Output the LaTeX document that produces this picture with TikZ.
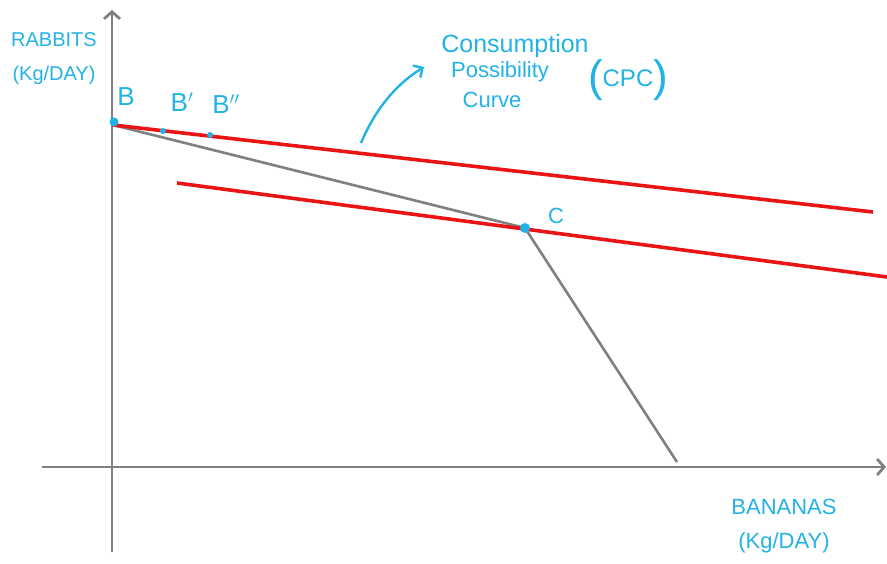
\documentclass[tikz,border=0pt]{standalone}
\usepackage{fontspec}
\setmainfont{Liberation Sans}
\usetikzlibrary{arrows.meta}
\definecolor{hand}{RGB}{35,178,230}
\definecolor{axisgray}{RGB}{128,128,128}
\definecolor{cpcred}{RGB}{235,20,20}
\tikzset{
  axisline/.style={draw=axisgray, line width=2.8pt},
  ppfline/.style={draw=axisgray, line width=2.6pt},
  cpcline/.style={draw=cpcred, line width=3.6pt},
  hlabel/.style={text=hand, font=\fontsize{22}{24}\selectfont, inner sep=0pt, align=center},
  dotpt/.style={circle, fill=hand, inner sep=0pt, minimum size=6pt},
}
\begin{document}
\begin{tikzpicture}[x=1pt,y=-1pt]
\useasboundingbox (0,0) rectangle (887,564);
% axes
\coordinate (ybot) at (112,552);
\coordinate (ytop) at (112,10);
\coordinate (xleft) at (42,467);
\coordinate (xright) at (886,467);
\draw[axisline, -{Straight Barb[length=7pt,width=16pt]}] (ybot) -- (ytop);
\draw[axisline, -{Straight Barb[length=7pt,width=16pt]}] (xleft) -- (xright);
% PPF
\coordinate (Bp) at (113,125);
\coordinate (Cp) at (525,228);
\coordinate (Ep) at (677,462);
\draw[ppfline] (Bp) -- (Cp) -- (Ep);
% CPC lines
\coordinate (r1s) at (113,125);
\coordinate (r1e) at (873,212);
\coordinate (r2s) at (177,183);
\coordinate (r2e) at (887,277);
\draw[cpcline] (r1s) -- (r1e);
\draw[cpcline] (r2s) -- (r2e);
% points
\node[dotpt, minimum size=9pt] (B) at (114,122) {};
\node[dotpt, minimum size=6pt] (B1) at (163,131) {};
\node[dotpt, minimum size=6pt] (B2) at (210,135) {};
\node[dotpt, minimum size=10pt] (C) at (525,228) {};
% labels
\node[hlabel, font=\fontsize{26}{26}\selectfont] (lB) at (126,97) {B};
\node[hlabel, font=\fontsize{26}{26}\selectfont] (lB1) at (182,102) {B$'$};
\node[hlabel, font=\fontsize{26}{26}\selectfont] (lB2) at (226,104) {B$''$};
\node[hlabel, font=\fontsize{22}{22}\selectfont] (lC) at (556,216) {C};
\node[hlabel, font=\fontsize{20}{34}\selectfont] (ylab) at (54,59) {RABBITS\\(Kg/DAY)};
\node[hlabel, font=\fontsize{22}{34}\selectfont] (xlab) at (784,526) {BANANAS\\(Kg/DAY)};
\node[hlabel, font=\fontsize{25}{25}\selectfont] (cpc1) at (515,46) {Consumption};
\node[hlabel, font=\fontsize{22}{22}\selectfont] (cpc2) at (500,72) {Possibility};
\node[hlabel, font=\fontsize{22}{22}\selectfont] (cpc3) at (492,100) {Curve};
\node[hlabel, font=\fontsize{24}{24}\selectfont] (cpc4) at (628,80) {{\fontsize{44}{44}\selectfont\addfontfeatures{}(}\raisebox{5pt}{CPC}{\fontsize{44}{44}\selectfont)}};
% arrow to CPC
\coordinate (arrS) at (361,143);
\coordinate (arrE) at (424,67);
\draw[hand, line width=2.4pt, -{Straight Barb[length=7pt,width=14pt]}] (arrS) .. controls (375,110) and (395,85) .. (arrE);
\end{tikzpicture}
\end{document}
